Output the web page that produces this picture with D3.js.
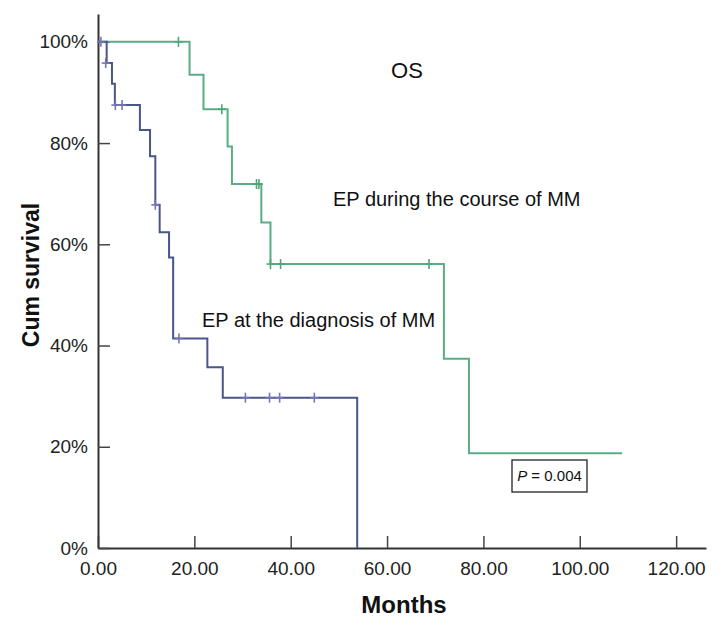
<!DOCTYPE html>
<html>
<head>
<meta charset="utf-8">
<script src="https://cdn.jsdelivr.net/npm/d3@7"></script>
<style>
  body { margin: 0; background: #fff; }
  svg { display: block; font-family: "Liberation Sans", Arial, sans-serif; }
</style>
</head>
<body>
<div id="chart"></div>
<script>
// step points (months, cumulative survival)
var diagTimes = [0, 1.8, 2.9, 3.5, 8.7, 10.8, 11.9, 12.8, 14.75, 15.6, 22.7, 25.9, 53.8];
var diagSurv  = [1.0, 0.958, 0.917, 0.875, 0.826, 0.774, 0.678, 0.624, 0.574, 0.414, 0.357, 0.297, 0.0];
var diagCensT = [0.6, 1.6, 3.6, 5.0, 11.9, 16.8, 30.6, 35.6, 37.7, 44.9];
var diagCensS = [1.0, 0.958, 0.875, 0.875, 0.678, 0.414, 0.297, 0.297, 0.297, 0.297];

var courseTimes = [0, 19.0, 21.9, 26.9, 27.8, 33.9, 35.8, 71.8, 77.0, 108.8];
var courseSurv  = [1.0, 0.935, 0.867, 0.793, 0.719, 0.643, 0.561, 0.374, 0.187, 0.187];
var courseCensT = [16.7, 25.7, 32.9, 33.4, 35.8, 37.9, 68.7];
var courseCensS = [1.0, 0.867, 0.719, 0.719, 0.561, 0.561, 0.561];

var xTicks = [0, 20, 40, 60, 80, 100, 120];
var yTicks = [0, 0.2, 0.4, 0.6, 0.8, 1.0];

var width = 722, height = 627;

var svg = d3.select("#chart").append("svg")
    .attr("width", width)
    .attr("height", height);

var x = d3.scaleLinear().domain([0, 126.2]).range([98, 706]);
var y = d3.scaleLinear().domain([0, 1.055]).range([548, 14]);

// axes
var xAxis = svg.append("g")
    .attr("transform", "translate(0," + y(0) + ")")
    .call(d3.axisBottom(x).tickValues(xTicks).tickFormat(d3.format(".2f"))
      .tickSizeInner(-12).tickSizeOuter(0).tickPadding(14));
xAxis.select(".domain").attr("stroke", "#333").attr("stroke-width", 2);
xAxis.selectAll(".tick line").attr("stroke", "#444").attr("stroke-width", 1.5);
xAxis.selectAll(".tick text").attr("font-size", 19).attr("fill", "#222")
    .attr("font-family", "Liberation Sans, Arial, sans-serif");

var yAxis = svg.append("g")
    .attr("transform", "translate(" + x(0) + ",0)")
    .call(d3.axisLeft(y).tickValues(yTicks).tickFormat(d3.format(".0%"))
      .tickSizeInner(-12).tickSizeOuter(0).tickPadding(10));
yAxis.select(".domain").attr("stroke", "#333").attr("stroke-width", 2);
yAxis.selectAll(".tick line").attr("stroke", "#444").attr("stroke-width", 1.5);
yAxis.selectAll(".tick text").attr("font-size", 19).attr("fill", "#222")
    .attr("font-family", "Liberation Sans, Arial, sans-serif");

// curves
var line = d3.line()
    .x(function(d) { return x(d.t); })
    .y(function(d) { return y(d.s); })
    .curve(d3.curveStepAfter);

function toPts(ts, ss) {
  return ts.map(function(t, i) { return { t: t, s: ss[i] }; });
}

svg.append("path")
    .datum(toPts(courseTimes, courseSurv))
    .attr("fill", "none")
    .attr("stroke", "#5aad84")
    .attr("stroke-width", 2)
    .attr("d", line);

svg.append("path")
    .datum(toPts(diagTimes, diagSurv))
    .attr("fill", "none")
    .attr("stroke", "#4a5588")
    .attr("stroke-width", 2)
    .attr("d", line);

function censors(ts, ss, color) {
  var g = svg.append("g").attr("stroke", color).attr("stroke-width", 1.6);
  var pts = toPts(ts, ss);
  g.selectAll("line.v").data(pts).enter().append("line")
      .attr("x1", function(d) { return x(d.t); })
      .attr("x2", function(d) { return x(d.t); })
      .attr("y1", function(d) { return y(d.s) - 5; })
      .attr("y2", function(d) { return y(d.s) + 5; });
  g.selectAll("line.h").data(pts).enter().append("line")
      .attr("x1", function(d) { return x(d.t) - 4; })
      .attr("x2", function(d) { return x(d.t) + 4; })
      .attr("y1", function(d) { return y(d.s); })
      .attr("y2", function(d) { return y(d.s); });
}
censors(courseCensT, courseCensS, "#4fa67a");
censors(diagCensT, diagCensS, "#7676b4");

// texts
svg.append("text").attr("x", 407).attr("y", 78)
    .attr("text-anchor", "middle").attr("font-size", 22).attr("fill", "#111").text("OS");

svg.append("text").attr("x", 333).attr("y", 206)
    .attr("font-size", 20).attr("fill", "#111").text("EP during the course of MM");

svg.append("text").attr("x", 202).attr("y", 327)
    .attr("font-size", 20).attr("fill", "#111").text("EP at the diagnosis of MM");

svg.append("rect")
    .attr("x", 512).attr("y", 460).attr("width", 75).attr("height", 32)
    .attr("fill", "#fff").attr("stroke", "#222").attr("stroke-width", 1.3);

var pt = svg.append("text").attr("x", 549.5).attr("y", 481)
    .attr("text-anchor", "middle").attr("font-size", 15).attr("fill", "#111");
pt.append("tspan").attr("font-style", "italic").text("P");
pt.append("tspan").text(" = 0.004");

svg.append("text")
    .attr("transform", "translate(39,275) rotate(-90)")
    .attr("text-anchor", "middle").attr("font-size", 23).attr("font-weight", "bold")
    .attr("fill", "#111").text("Cum survival");

svg.append("text").attr("x", 404).attr("y", 613)
    .attr("text-anchor", "middle").attr("font-size", 24).attr("font-weight", "bold")
    .attr("fill", "#111").text("Months");
</script>
</body>
</html>
